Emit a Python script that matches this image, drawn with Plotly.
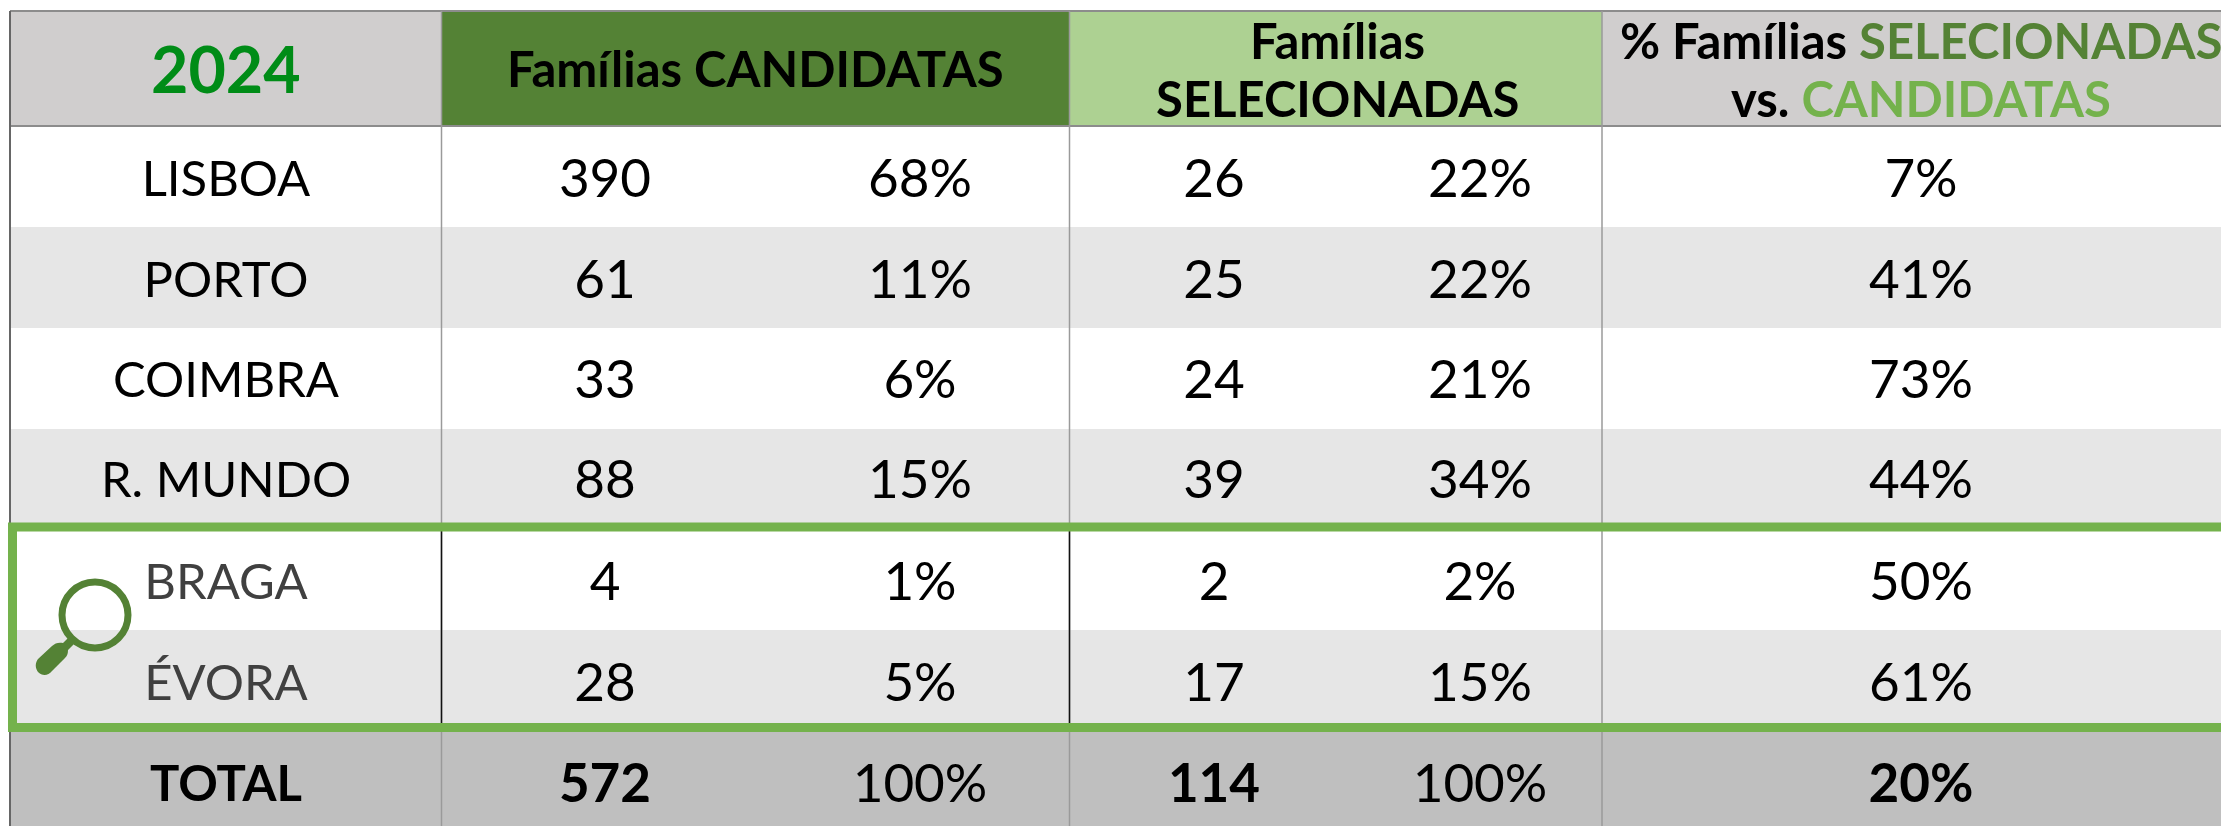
import plotly.graph_objects as go

# ---------- data ----------
year_label = "2024"
regions = ["LISBOA", "PORTO", "COIMBRA", "R. MUNDO", "BRAGA", "ÉVORA"]
cand_n = [390, 61, 33, 88, 4, 28]
cand_pct = ["68%", "11%", "6%", "15%", "1%", "5%"]
sel_n = [26, 25, 24, 39, 2, 17]
sel_pct = ["22%", "22%", "21%", "34%", "2%", "15%"]
ratio_pct = ["7%", "41%", "73%", "44%", "50%", "61%"]
total_label = "TOTAL"
total_cand, total_cand_pct = 572, "100%"
total_sel, total_sel_pct = 114, "100%"
total_ratio = "20%"

# ---------- layout geometry (pixel-mapped axes) ----------
W, H = 2221, 826
LEFT, TOP, HB = 10, 11, 126
COLS = [441.5, 1069.5, 1602]
ROWS = [126, 227, 328, 429, 529.5, 630, 731, 826]
ROWC = [183.5, 284.5, 385, 485, 587, 688, 789]
XC = [226, 605, 920, 1214, 1480, 1921]

DG, MG, LG = "#548235", "#74B24C", "#ADD192"
HGRAY, ALT, TOT = "#D0CECE", "#E6E6E6", "#BFBFBF"
F = "Lato"
FS = 53
FS_REGION = 49
FS_HEAD = 49
shapes = []


def rect(x0, y0, x1, y1, fill):
    shapes.append(dict(type="rect", xref="x", yref="y", x0=x0, y0=y0, x1=x1, y1=y1,
                       fillcolor=fill, line_width=0, layer="below"))


def line(x0, y0, x1, y1, color, w=1.5):
    shapes.append(dict(type="line", xref="x", yref="y", x0=x0, y0=y0, x1=x1, y1=y1,
                       line=dict(color=color, width=w), layer="below"))


# header fills
rect(LEFT, TOP, COLS[0], HB, HGRAY)
rect(COLS[0], TOP, COLS[1], HB, DG)
rect(COLS[1], TOP, COLS[2], HB, LG)
rect(COLS[2], TOP, W, HB, HGRAY)
# rows
for i in range(6):
    rect(LEFT, ROWS[i], W, ROWS[i + 1], "white" if i % 2 == 0 else ALT)
rect(LEFT, ROWS[6], W, ROWS[7], TOT)
# rules
line(LEFT, TOP, W, TOP, "#8C8C8C", 2)
line(LEFT, HB, W, HB, "#8C8C8C", 2)
line(LEFT, TOP, LEFT, H, "#666666", 2)
for c in COLS:
    line(c, TOP, c, H, "#9A9A9A", 1.5)
for c in COLS[:2]:
    line(c, ROWS[4], c, ROWS[6], "#111111", 1.5)
# highlight frame
shapes.append(dict(type="rect", xref="x", yref="y", x0=12.5, y0=527, x1=W + 20, y1=727.5,
                   line=dict(color=MG, width=9), fillcolor="rgba(0,0,0,0)", layer="above"))
# magnifier
shapes.append(dict(type="circle", xref="x", yref="y", x0=62, y0=582, x1=128, y1=648,
                   line=dict(color=DG, width=7), fillcolor="rgba(0,0,0,0)", layer="above"))
shapes.append(dict(type="path", xref="x", yref="y",
                   path="M 69 637 L 75 643 L 68 650 C 68 654 67 656 65 658 L 52 671 "
                        "C 48 676 42 676 38 672 C 35 668 35 663 38 659 L 52 646 "
                        "C 55 643 59 642 63 643 Z",
                   fillcolor=DG, line_width=0, layer="above"))

fig = go.Figure()


def col_trace(x, texts, colors=None, size=FS):
    fig.add_trace(go.Scatter(
        x=[x] * len(texts), y=ROWC[:len(texts)], mode="text", text=texts,
        textposition="middle center", hoverinfo="skip", showlegend=False,
        textfont=dict(family=F, size=size, color=colors or "#000000")))


b = lambda s: f"<b>{s}</b>"
col_trace(XC[0], regions + [b(total_label)],
          ["#000000"] * 4 + ["#404040"] * 2 + ["#000000"], FS_REGION)
col_trace(XC[1], [str(v) for v in cand_n] + [b(total_cand)])
col_trace(XC[2], cand_pct + [total_cand_pct])
col_trace(XC[3], [str(v) for v in sel_n] + [b(total_sel)])
col_trace(XC[4], sel_pct + [total_sel_pct])
col_trace(XC[5], ratio_pct + [b(total_ratio)])


def header(x, y, text, size=FS_HEAD, color="#000000"):
    fig.add_annotation(x=x, y=y, xref="x", yref="y", text=text, showarrow=False,
                       font=dict(family=F, size=size, color=color),
                       xanchor="center", yanchor="middle", align="center")


header(226, 68, b(year_label), 64.5, "#008C17")
header(755, 68, b("Famílias CANDIDATAS"))
header(1337, 40, b("Famílias"))
header(1337, 98, b("SELECIONADAS"))
header(1921, 40, b(f'% Famílias <span style="color:{DG}">SELECIONADAS</span>'))
header(1921, 98, b(f'vs. <span style="color:{MG}">CANDIDATAS</span>'))

fig.update_layout(
    width=W, height=H, margin=dict(l=0, r=0, t=0, b=0),
    paper_bgcolor="white", plot_bgcolor="white", shapes=shapes, showlegend=False,
    xaxis=dict(range=[0, W], visible=False, fixedrange=True),
    yaxis=dict(range=[H, 0], visible=False, fixedrange=True),
)
fig.write_html("out.html", config={"displayModeBar": False},
               post_script="document.body.style.margin='0';document.body.style.overflow='hidden';")
